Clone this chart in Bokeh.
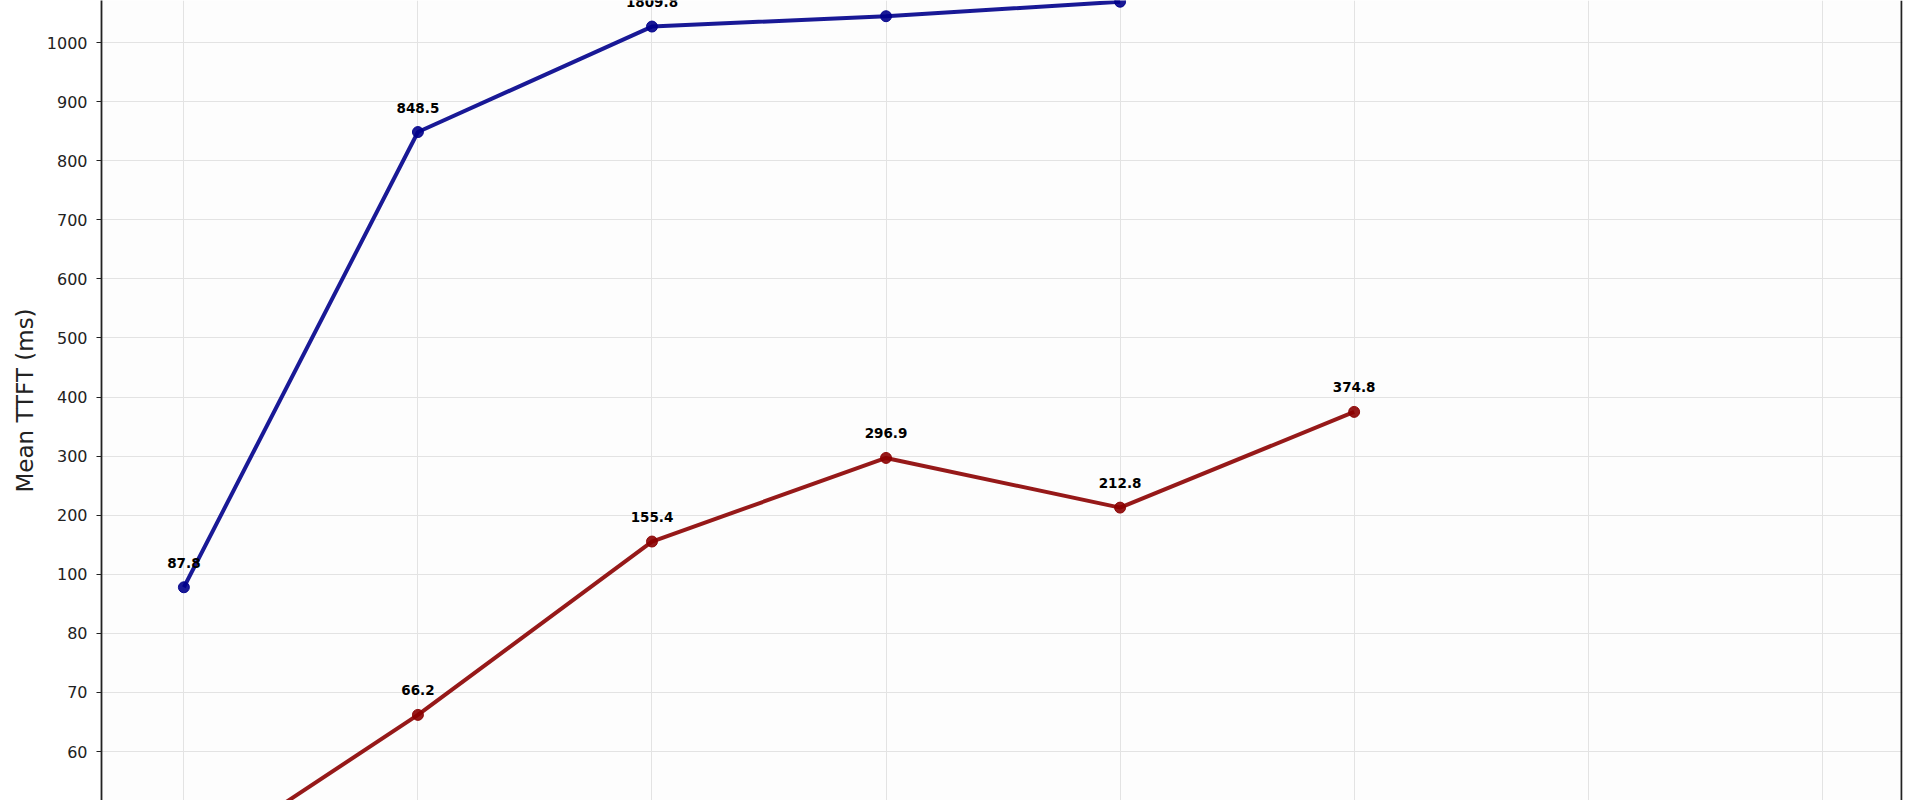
import numpy as np
from bokeh.plotting import figure
from bokeh.models import Range1d, FixedTicker, ColumnDataSource, Span
from bokeh.core.properties import value
from bokeh.embed import file_html
from bokeh.resources import INLINE

# ---- data -------------------------------------------------------------
# y axis: tick values placed at equally spaced slots (piecewise scale)
y_tick_values = [40, 50, 60, 70, 80, 100, 200, 300, 400, 500, 600, 700, 800, 900, 1000, 4000]
y_tick_labels = ["40", "50", "60", "70", "80", "100", "200", "300", "400", "500",
                 "600", "700", "800", "900", "1000", "4000"]

n_slots = 8                      # category slots along x
blue_x = [0, 1, 2, 3, 4]
blue_ttft = [95.6, 848.5, 1809.8, 2335.0, 3070.0]
blue_labels = ["87.8", "848.5", "1809.8", "", ""]

red_x = [0, 1, 2, 3, 4, 5]
red_ttft = [40.0, 66.2, 155.4, 296.9, 212.8, 374.8]
red_labels = ["", "66.2", "155.4", "296.9", "212.8", "374.8"]

y_title = "Mean TTFT (ms)"

# ---- scale: value -> slot index ----------------------------------------
slot_idx = np.arange(len(y_tick_values), dtype=float)


def to_slot(vals):
    return np.interp(np.asarray(vals, dtype=float), y_tick_values, slot_idx).tolist()


FONT = "DejaVu Sans"
X0, X1 = -0.352, n_slots - 1 + 0.343

p = figure(width=1912, height=800, output_backend="svg", toolbar_location=None,
           x_range=Range1d(X0, X1),
           y_range=Range1d(1.171, 14.711),
           min_border_left=101, min_border_right=10, min_border_top=0, min_border_bottom=0,
           background_fill_color="#fdfdfd", border_fill_color="white",
           outline_line_color=None)

p.xaxis.visible = False
p.xgrid.ticker = FixedTicker(ticks=list(range(n_slots)))
p.xgrid.grid_line_color = "#e3e3e3"
p.xgrid.grid_line_width = 1

yt = FixedTicker(ticks=slot_idx.tolist())
p.yaxis.ticker = yt
p.ygrid.ticker = yt
p.ygrid.grid_line_color = "#e3e3e3"
p.ygrid.grid_line_width = 1
p.yaxis.major_label_overrides = {float(i): lab for i, lab in zip(slot_idx, y_tick_labels)}
p.yaxis.major_label_text_font = FONT
p.yaxis.major_label_text_font_size = "16px"
p.yaxis.major_label_text_color = "#222222"
p.yaxis.major_label_standoff = 9
p.yaxis.major_tick_out = 5
p.yaxis.major_tick_in = 0
p.yaxis.major_tick_line_color = "#222222"
p.yaxis.major_tick_line_width = 1.2
p.yaxis.minor_tick_line_color = None
p.yaxis.axis_line_color = "#222222"
p.yaxis.axis_line_width = 1.8
p.yaxis.axis_label = y_title
p.yaxis.axis_label_text_font = FONT
p.yaxis.axis_label_text_font_size = "23px"
p.yaxis.axis_label_text_font_style = "normal"
p.yaxis.axis_label_text_color = "#222222"
p.yaxis.axis_label_standoff = 6

# right spine
p.add_layout(Span(location=X1 - 0.004, dimension="height",
                  line_color="#222222", line_width=2))

series = [
    (blue_x, blue_ttft, blue_labels, "#00008b"),
    (red_x, red_ttft, red_labels, "#8b0000"),
]
for xs, ys, labs, col in series:
    src = ColumnDataSource(dict(x=xs, y=to_slot(ys), lab=labs))
    p.line("x", "y", source=src, line_color=col, line_width=4, line_alpha=0.9)
    p.scatter("x", "y", source=src, size=11, fill_color=col, line_color=col,
              line_width=1, alpha=0.9)
    p.text("x", "y", text="lab", source=src, text_font=value(FONT),
           text_font_style="bold", text_font_size="13.5px", text_align="center",
           text_baseline="alphabetic", y_offset=-24.5, text_color="black")

open("out.html", "w").write(file_html(p, INLINE))
